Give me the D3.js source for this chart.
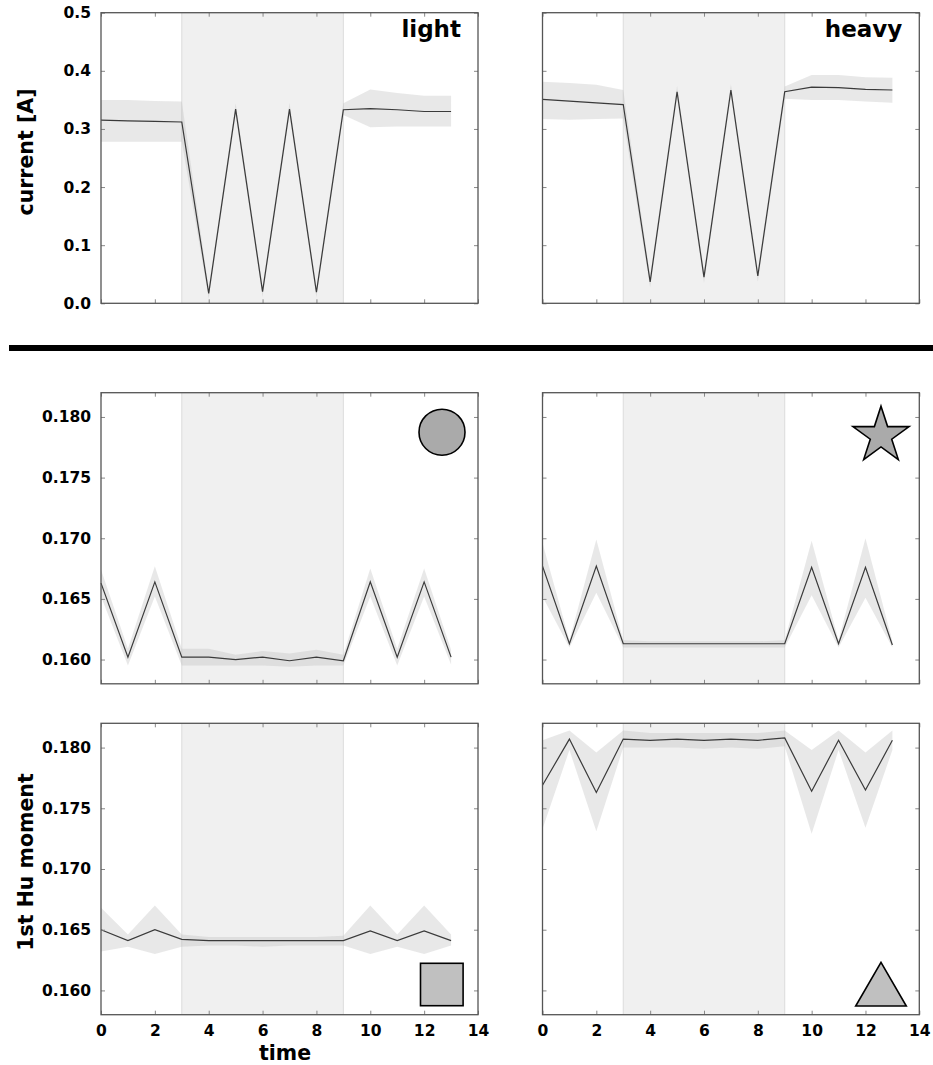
<!DOCTYPE html>
<html>
<head>
<meta charset="utf-8">
<script src="https://cdn.jsdelivr.net/npm/d3@7"></script>
<style>
  html, body { margin: 0; padding: 0; background: #fff; }
  svg { display: block; }
  text { font-family: "DejaVu Sans", sans-serif; font-weight: bold; fill: #000; }
</style>
</head>
<body>
<svg id="chart" width="933" height="1065"></svg>
<script>
// ---------- data ----------
const time = [0, 1, 2, 3, 4, 5, 6, 7, 8, 9, 10, 11, 12, 13];
const stimStart = 3, stimEnd = 9;

const xTicks = [0, 2, 4, 6, 8, 10, 12, 14];
const currentTicks = [0.0, 0.1, 0.2, 0.3, 0.4, 0.5];
const huTicks = [0.160, 0.165, 0.170, 0.175, 0.180];

// current, light
const lightCurMean = [0.315, 0.314, 0.313, 0.312, 0.017, 0.334, 0.020, 0.334, 0.019, 0.333, 0.335, 0.333, 0.330, 0.330];
const lightCurHi   = [0.350, 0.350, 0.348, 0.347, 0.026, 0.344, 0.029, 0.345, 0.028, 0.344, 0.368, 0.362, 0.357, 0.357];
const lightCurLo   = [0.278, 0.278, 0.278, 0.278, 0.008, 0.324, 0.011, 0.325, 0.010, 0.324, 0.303, 0.304, 0.304, 0.304];
// current, heavy
const heavyCurMean = [0.351, 0.348, 0.345, 0.342, 0.037, 0.364, 0.045, 0.367, 0.047, 0.364, 0.372, 0.371, 0.368, 0.367];
const heavyCurHi   = [0.381, 0.379, 0.376, 0.367, 0.047, 0.374, 0.055, 0.377, 0.057, 0.373, 0.393, 0.393, 0.389, 0.388];
const heavyCurLo   = [0.317, 0.316, 0.317, 0.318, 0.027, 0.354, 0.035, 0.357, 0.037, 0.352, 0.350, 0.350, 0.347, 0.345];

// Hu moment, circle (light)
const circleMean = [0.1663, 0.1602, 0.1664, 0.1602, 0.1602, 0.1600, 0.1602, 0.1599, 0.1602, 0.1599, 0.1664, 0.1602, 0.1664, 0.1602];
const circleHi   = [0.1674, 0.1609, 0.1677, 0.1609, 0.1609, 0.1604, 0.1607, 0.1605, 0.1608, 0.1604, 0.1675, 0.1609, 0.1675, 0.1608];
const circleLo   = [0.1652, 0.1595, 0.1652, 0.1595, 0.1595, 0.1595, 0.1595, 0.1594, 0.1595, 0.1595, 0.1652, 0.1595, 0.1652, 0.1596];
// Hu moment, star (heavy)
const starMean = [0.1677, 0.1613, 0.1677, 0.1613, 0.1613, 0.1613, 0.1613, 0.1613, 0.1613, 0.1613, 0.1676, 0.1613, 0.1676, 0.1612];
const starHi   = [0.1696, 0.1616, 0.1699, 0.1616, 0.1615, 0.1615, 0.1615, 0.1615, 0.1615, 0.1616, 0.1698, 0.1616, 0.1700, 0.1615];
const starLo   = [0.1652, 0.1610, 0.1655, 0.1610, 0.1610, 0.1610, 0.1610, 0.1610, 0.1610, 0.1610, 0.1653, 0.1610, 0.1651, 0.1610];
// Hu moment, square (light)
const squareMean = [0.1650, 0.1641, 0.1650, 0.1642, 0.1641, 0.1641, 0.1641, 0.1641, 0.1641, 0.1641, 0.1649, 0.1641, 0.1649, 0.1641];
const squareHi   = [0.1668, 0.1646, 0.1670, 0.1646, 0.1644, 0.1644, 0.1644, 0.1644, 0.1644, 0.1645, 0.1670, 0.1646, 0.1670, 0.1646];
const squareLo   = [0.1632, 0.1636, 0.1630, 0.1636, 0.1637, 0.1637, 0.1636, 0.1637, 0.1637, 0.1637, 0.1630, 0.1636, 0.1630, 0.1637];
// Hu moment, triangle (heavy)
const triMean = [0.1769, 0.1807, 0.1763, 0.1807, 0.1806, 0.1807, 0.1806, 0.1807, 0.1806, 0.1808, 0.1764, 0.1806, 0.1765, 0.1806];
const triHi   = [0.1806, 0.1814, 0.1796, 0.1814, 0.1812, 0.1812, 0.1812, 0.1812, 0.1812, 0.1814, 0.1798, 0.1814, 0.1796, 0.1814];
const triLo   = [0.1733, 0.1798, 0.1731, 0.1800, 0.1800, 0.1800, 0.1799, 0.1800, 0.1799, 0.1801, 0.1729, 0.1798, 0.1734, 0.1798];

// ---------- layout ----------
const svg = d3.select("#chart");
const cols = [{x0: 101, x1: 478}, {x0: 542.5, x1: 919.3}];
const rows = [{y0: 12.7, y1: 303.3}, {y0: 392.7, y1: 683.8}, {y0: 723.3, y1: 1014.7}];

const panels = [
  {row: 0, col: 0, mean: lightCurMean, hi: lightCurHi, lo: lightCurLo, dom: [0, 0.5], ticks: currentTicks, fmt: ".1f", label: "light"},
  {row: 0, col: 1, mean: heavyCurMean, hi: heavyCurHi, lo: heavyCurLo, dom: [0, 0.5], ticks: currentTicks, fmt: ".1f", label: "heavy"},
  {row: 1, col: 0, mean: circleMean, hi: circleHi, lo: circleLo, dom: [0.158, 0.182], ticks: huTicks, fmt: ".3f", shape: "circle"},
  {row: 1, col: 1, mean: starMean, hi: starHi, lo: starLo, dom: [0.158, 0.182], ticks: huTicks, fmt: ".3f", shape: "star"},
  {row: 2, col: 0, mean: squareMean, hi: squareHi, lo: squareLo, dom: [0.158, 0.182], ticks: huTicks, fmt: ".3f", shape: "square"},
  {row: 2, col: 1, mean: triMean, hi: triHi, lo: triLo, dom: [0.158, 0.182], ticks: huTicks, fmt: ".3f", shape: "triangle"}
];

const frameColor = "#555";

panels.forEach(p => {
  const c = cols[p.col], r = rows[p.row];
  const x = d3.scaleLinear().domain([0, 14]).range([c.x0, c.x1]);
  const y = d3.scaleLinear().domain(p.dom).range([r.y1, r.y0]);
  const g = svg.append("g");

  // stimulus shaded region
  g.append("rect")
    .attr("x", x(stimStart)).attr("y", r.y0)
    .attr("width", x(stimEnd) - x(stimStart)).attr("height", r.y1 - r.y0)
    .attr("fill", "#f0f0f0");
  [stimStart, stimEnd].forEach(t => {
    g.append("line").attr("x1", x(t)).attr("x2", x(t)).attr("y1", r.y0).attr("y2", r.y1)
      .attr("stroke", "#dcdcdc").attr("stroke-width", 1);
  });

  // band
  const area = d3.area().x((d, i) => x(time[i])).y0((d, i) => y(p.lo[i])).y1((d, i) => y(p.hi[i]));
  g.append("path").datum(p.mean).attr("d", area)
    .attr("fill", "#bababa").attr("fill-opacity", 0.33);

  // mean line
  const line = d3.line().x((d, i) => x(time[i])).y(d => y(d));
  g.append("path").datum(p.mean).attr("d", line)
    .attr("fill", "none").attr("stroke", "#3a3a3a").attr("stroke-width", 1.2);

  // axes: inward ticks on all four sides
  const showX = p.row === 2, showY = p.col === 0;
  const ax = g.append("g").attr("transform", `translate(0,${r.y1})`)
    .call(d3.axisBottom(x).tickValues(xTicks).tickSizeInner(-4).tickSizeOuter(0).tickPadding(10)
      .tickFormat(showX ? d3.format("d") : () => ""));
  const axT = g.append("g").attr("transform", `translate(0,${r.y0})`)
    .call(d3.axisTop(x).tickValues(xTicks).tickSizeInner(-4).tickSizeOuter(0).tickFormat(() => ""));
  const ay = g.append("g").attr("transform", `translate(${c.x0},0)`)
    .call(d3.axisLeft(y).tickValues(p.ticks).tickSizeInner(-4).tickSizeOuter(0).tickPadding(10)
      .tickFormat(showY ? d3.format(p.fmt) : () => ""));
  const ayR = g.append("g").attr("transform", `translate(${c.x1},0)`)
    .call(d3.axisRight(y).tickValues(p.ticks).tickSizeInner(-4).tickSizeOuter(0).tickFormat(() => ""));
  [ax, axT, ay, ayR].forEach(a => {
    a.select(".domain").remove();
    a.selectAll(".tick line").attr("stroke", "#888").attr("stroke-width", 1);
    a.selectAll("text").attr("font-size", 15.5).attr("font-family", "'DejaVu Sans', sans-serif")
      .attr("font-weight", "bold").attr("fill", "#000");
  });
  ax.selectAll("text").attr("dy", "0.71em");

  // frame
  g.append("rect").attr("x", c.x0).attr("y", r.y0)
    .attr("width", c.x1 - c.x0).attr("height", r.y1 - r.y0)
    .attr("fill", "none").attr("stroke", frameColor).attr("stroke-width", 1.3);

  // labels / shape icons
  const W = c.x1 - c.x0;
  if (p.label) {
    g.append("text").attr("x", c.x1 - 17).attr("y", r.y0 + 24)
      .attr("text-anchor", "end").attr("font-size", 23).text(p.label);
  }
  const icon = g.append("g").attr("stroke", "#000").attr("stroke-width", 1.6);
  if (p.shape === "circle") {
    icon.append("circle").attr("cx", c.x1 - 36).attr("cy", r.y0 + 39.5).attr("r", 23)
      .attr("fill", "#aaaaaa");
  } else if (p.shape === "star") {
    const cx = c.x1 - 38.3, cy = r.y0 + 43, R = 29.5, ri = R * 0.382;
    const pts = d3.range(10).map(k => {
      const a = -Math.PI / 2 + k * Math.PI / 5, rr = k % 2 ? ri : R;
      return [cx + rr * Math.cos(a), cy + rr * Math.sin(a)];
    });
    icon.append("path").attr("d", "M" + pts.join("L") + "Z").attr("fill", "#aaaaaa")
      .attr("stroke-linejoin", "miter");
  } else if (p.shape === "square") {
    icon.append("rect").attr("x", c.x1 - 57.5).attr("y", r.y1 - 51.4)
      .attr("width", 42.6).attr("height", 42.4).attr("fill", "#c0c0c0");
  } else if (p.shape === "triangle") {
    const cx = c.x1 - 38.3, by = r.y1 - 8.7, hw = 25.3, h = 43.7;
    icon.append("path").attr("d", `M${cx},${by - h}L${cx + hw},${by}L${cx - hw},${by}Z`)
      .attr("fill", "#c0c0c0");
  }
});

// separator bar
svg.append("rect").attr("x", 9).attr("y", 345).attr("width", 924).attr("height", 6).attr("fill", "#000");

// axis titles
svg.append("text").attr("transform", "translate(33,152) rotate(-90)")
  .attr("text-anchor", "middle").attr("font-size", 20.5).text("current [A]");
svg.append("text").attr("transform", "translate(33,862) rotate(-90)")
  .attr("text-anchor", "middle").attr("font-size", 20.5).text("1st Hu moment");
svg.append("text").attr("x", 285).attr("y", 1060)
  .attr("text-anchor", "middle").attr("font-size", 20.5).text("time");
</script>
</body>
</html>
